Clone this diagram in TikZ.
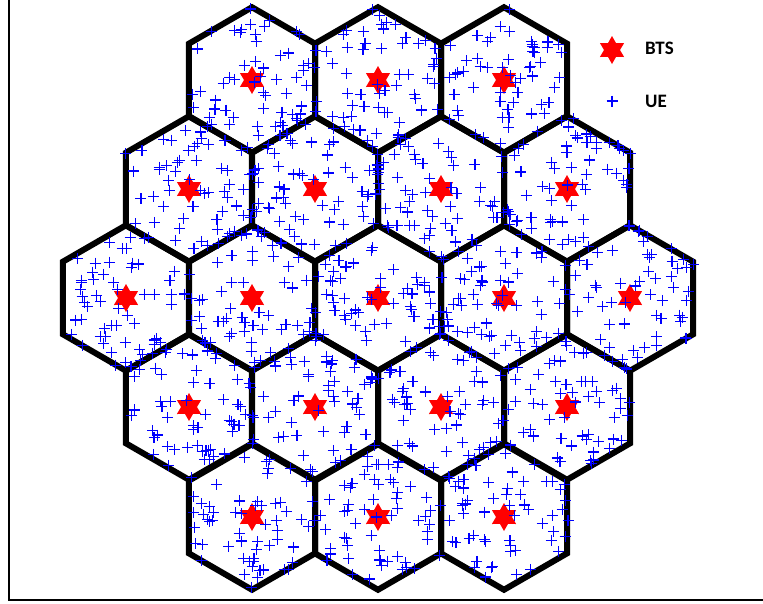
\documentclass[tikz,border=0pt]{standalone}
\usepackage{fontspec}
\setsansfont{Carlito}
\usetikzlibrary{shapes.geometric,calc}

\begin{document}
\begin{tikzpicture}[
    x=1pt, y=-1pt,
    cell/.style={regular polygon, regular polygon sides=6, shape border rotate=30, draw, line width=6pt, inner sep=0pt, minimum size=145.5pt},
    bts/.style={star, star points=6, star point ratio=1.75, fill=red, inner sep=0pt, minimum size=28pt},
    ue/.style={line width=1.1pt, draw=blue},
    legend/.style={font=\sffamily\bfseries\fontsize{19}{19}\selectfont, anchor=west, inner sep=0pt}
]
    \useasboundingbox (0,0) rectangle (763,603);
    \pgfmathsetseed{17}

    % frame
    \draw[line width=1.5pt] (9,0) -- (9,600) -- (763,600);

    % cells
    \foreach \cx/\cy [count=\i] in {252/80, 378/80, 504/80,
        189/189, 315/189, 441/189, 567/189,
        126/298, 252/298, 378/298, 504/298, 630/298,
        189/407, 315/407, 441/407, 567/407,
        252/517, 378/517, 504/517}
        \node[cell] (cell\i) at (\cx,\cy) {};

    % base stations
    \foreach \i in {1,...,19}
        \node[bts] (bts\i) at (cell\i.center) {};

    % users
    \foreach \i in {1,...,19}{
        \foreach \j in {1,...,58}{
            \pgfmathsetmacro{\rk}{120*random(0,2)}
            \pgfmathsetmacro{\ra}{rnd*74}
            \pgfmathsetmacro{\rb}{rnd*74}
            \pgfmathsetmacro{\px}{\ra*cos(30+\rk)+\rb*cos(150+\rk)}
            \pgfmathsetmacro{\py}{\ra*sin(30+\rk)+\rb*sin(150+\rk)}
            \path[ue] ($(cell\i.center)+(\px,\py)$) +(-5.5,0) -- +(5.5,0) +(0,-5.5) -- +(0,5.5);
        }
    }

    % legend
    \node[bts] (keybts) at (612,50) {};
    \node[legend] (keybtstext) at (645,48) {BTS};
    \coordinate (keyue) at (612,101);
    \path[ue] (keyue) +(-5.5,0) -- +(5.5,0) +(0,-5.5) -- +(0,5.5);
    \node[legend] (keyuetext) at (645,101) {UE};
\end{tikzpicture}
\end{document}
